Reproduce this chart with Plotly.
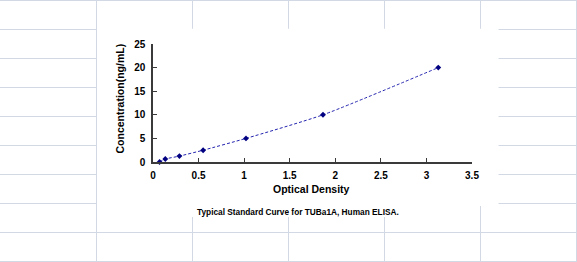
import plotly.graph_objects as go

# Data
optical_density = [0.072, 0.135, 0.29, 0.55, 1.02, 1.865, 3.13]
concentration = [0, 0.625, 1.25, 2.5, 5, 10, 20]
x_ticks = [0, 0.5, 1, 1.5, 2, 2.5, 3, 3.5]
y_ticks = [0, 5, 10, 15, 20, 25]

W, H = 577, 262
ML, MR, MT, MB = 153, 105, 44, 100
PW, PH = W - ML - MR, H - MT - MB


def px(x):
    return (x - ML) / PW


def py(y):
    return (H - MB - y) / PH


FONT = "Liberation Sans, Arial, sans-serif"
GRID = "#d3d9e4"

fig = go.Figure()
fig.add_trace(go.Scatter(
    x=optical_density, y=concentration, mode="lines+markers",
    line=dict(color="#2424b0", width=1, dash="3px,2px", shape="spline", smoothing=0.6),
    marker=dict(symbol="diamond", size=4.5, color="#000080"),
    showlegend=False, cliponaxis=False,
))

shapes = []
# spreadsheet-like grid background
rows = [0.5, 29.5, 58.5, 87.5, 116.5, 145.5, 174.5, 203.5, 232.5, 261.5]
cols = [96.5, 192.5, 288.5, 384.5, 480.5, 576.5]
for r in rows:
    shapes.append(dict(type="line", xref="paper", yref="paper", x0=px(0), x1=px(W), y0=py(r), y1=py(r),
                       line=dict(color=GRID, width=1), layer="below"))
for c in cols:
    shapes.append(dict(type="line", xref="paper", yref="paper", x0=px(c), x1=px(c), y0=py(0), y1=py(H),
                       line=dict(color=GRID, width=1), layer="below"))
# chart area (white)
shapes.append(dict(type="rect", xref="paper", yref="paper", x0=px(97), x1=px(498.5), y0=py(28.8), y1=py(206),
                   fillcolor="white", line=dict(width=0), layer="below"))
# caption box (white)
shapes.append(dict(type="rect", xref="paper", yref="paper", x0=px(190), x1=px(405), y0=py(200), y1=py(217),
                   fillcolor="white", line=dict(width=0), layer="below"))

annotations = [
    dict(text="Optical Density", x=px(311), y=py(189), xref="paper", yref="paper", showarrow=False,
         xanchor="center", yanchor="middle", font=dict(family=FONT, size=10.5, color="black", weight="bold")),
    dict(text="Concentration(ng/mL)", x=px(119.5), y=py(99), xref="paper", yref="paper", showarrow=False,
         textangle=-90, xanchor="center", yanchor="middle",
         font=dict(family=FONT, size=10.5, color="black", weight="bold")),
    dict(text="Typical Standard Curve for TUBa1A, Human ELISA.", x=px(298), y=py(212), xref="paper", yref="paper",
         showarrow=False, xanchor="center", yanchor="middle",
         font=dict(family=FONT, size=8.3, color="black", weight="bold")),
]

fig.update_layout(
    width=W, height=H, autosize=False,
    margin=dict(l=ML, r=MR, t=MT, b=MB, pad=0),
    paper_bgcolor="white", plot_bgcolor="rgba(0,0,0,0)",
    shapes=shapes, annotations=annotations,
    xaxis=dict(range=[0, 3.5], tickvals=x_ticks, ticktext=[f"{v:g}" for v in x_ticks],
               showgrid=False, zeroline=False, showline=True, linecolor="#3a3a3a", linewidth=1.5,
               ticks="inside", ticklen=4, tickwidth=1, tickcolor="#3a3a3a", ticklabelstandoff=3,
               tickfont=dict(family=FONT, size=10, color="black", weight="bold"), fixedrange=True),
    yaxis=dict(range=[0, 25], tickvals=y_ticks, ticktext=[f"{v:g}" for v in y_ticks],
               showgrid=False, zeroline=False, showline=True, linecolor="#3a3a3a", linewidth=1.5,
               ticks="inside", ticklen=4, tickwidth=1, tickcolor="#3a3a3a", ticklabelstandoff=4,
               tickfont=dict(family=FONT, size=10, color="black", weight="bold"), fixedrange=True),
)

fig.write_html("out.html", config=dict(displayModeBar=False))
